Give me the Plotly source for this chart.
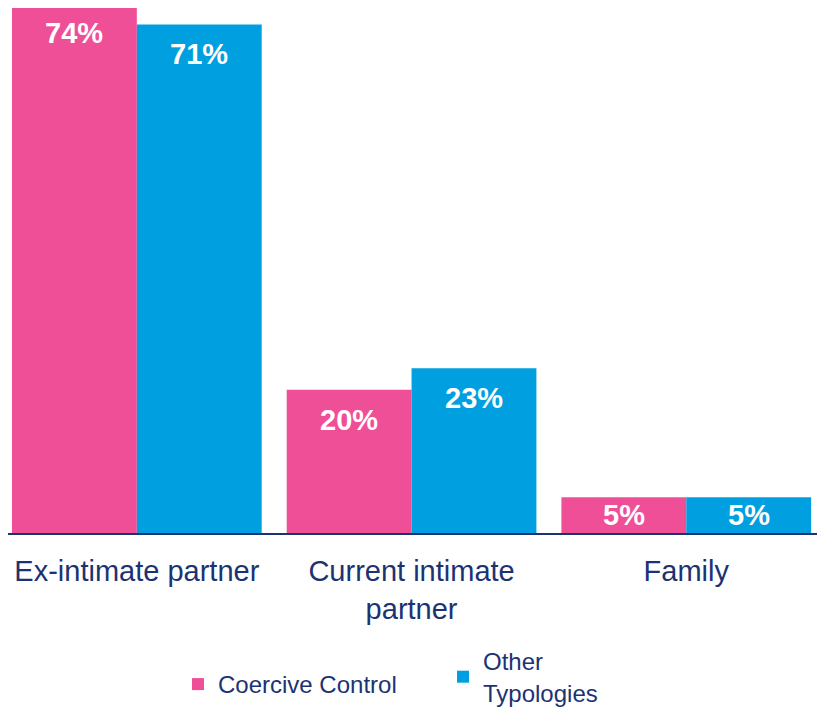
import plotly.graph_objects as go

# Category labels and series values (percent)
categories = ["Ex-intimate partner", "Current intimate<br>partner", "Family"]
coercive = [74, 20, 5]
other = [71, 23, 5]

PINK = "#EF4F97"
BLUE = "#009FDF"
NAVY = "#1C3372"
FONT = "Liberation Sans, Arial, sans-serif"

# the page body adds an 8px margin, so the figure is 8px smaller each way
W, H = 817, 700
PLOT_H = 525
PX_PER_UNIT = 530 / 74
Y_TOP = PLOT_H / PX_PER_UNIT

fig = go.Figure()
fig.add_trace(go.Bar(name="Coercive Control", x=categories, y=coercive,
                     marker=dict(color=PINK, line=dict(width=0)), legend="legend"))
fig.add_trace(go.Bar(name="Other<br>Typologies", x=categories, y=other,
                     marker=dict(color=BLUE, line=dict(width=0)), legend="legend2"))

# value labels: 30px below the top of each bar, centred when the bar is short
for vals, shift in ((coercive, -62.5), (other, 62.5)):
    for cat, v in zip(categories, vals):
        h = v * PX_PER_UNIT
        if h / 2 < 30:
            y, ys = v / 2, 0
        else:
            # keep the anchor inside the axis range so it is not hidden
            y = min(v, Y_TOP)
            ys = -30 + (v - y) * PX_PER_UNIT
        fig.add_annotation(x=cat, y=y, xshift=shift, yshift=ys, text=f"<b>{v}%</b>",
                           showarrow=False, yanchor="middle",
                           font=dict(family=FONT, size=29, color="white"))

legend_common = dict(orientation="h", xref="container", yref="container",
                     xanchor="left", yanchor="top", itemwidth=30,
                     font=dict(size=24, color=NAVY))

fig.update_layout(
    width=W, height=H,
    margin=dict(l=0, r=0, t=0, b=H - PLOT_H),
    barmode="group", bargap=0.091, bargroupgap=0,
    plot_bgcolor="white", paper_bgcolor="white",
    font=dict(family=FONT, color=NAVY),
    showlegend=True,
    legend=dict(x=170 / W, y=1 - 654 / H, **legend_common),
    legend2=dict(x=435 / W, y=1 - 631 / H, **legend_common),
)
fig.update_xaxes(showline=True, linecolor=NAVY, linewidth=2, ticks="",
                 automargin=False, range=[-0.469, 2.505],
                 tickfont=dict(size=29, color=NAVY), ticklabelstandoff=11)
fig.update_yaxes(range=[0, Y_TOP], visible=False, showgrid=False, automargin=False)

fig.write_html("out.html")
